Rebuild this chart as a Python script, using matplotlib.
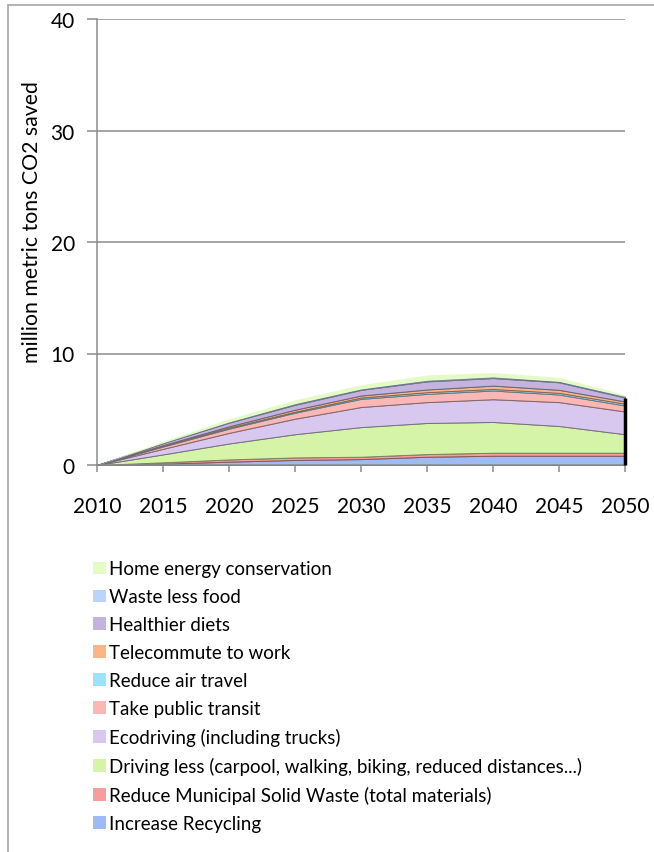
import numpy as np
import matplotlib
matplotlib.use('Agg')
import matplotlib.pyplot as plt
from matplotlib.patches import Rectangle, Patch
from matplotlib.colors import to_rgb

plt.rcParams['font.family'] = ['Lato', 'DejaVu Sans']

# ── Data: CO2 saved per measure (million metric tons), stacked bottom→top ──
years = [2010, 2015, 2020, 2025, 2030, 2035, 2040, 2045, 2050]

recycling   = [0, 0.12, 0.30, 0.45, 0.53, 0.74, 0.83, 0.83, 0.83]
msw         = [0, 0.12, 0.20, 0.23, 0.21, 0.24, 0.27, 0.27, 0.27]
driving     = [0, 0.71, 1.43, 2.08, 2.66, 2.79, 2.76, 2.40, 1.66]
ecodriving  = [0, 0.50, 0.95, 1.39, 1.80, 1.87, 2.04, 2.14, 2.04]
transit     = [0, 0.21, 0.38, 0.54, 0.73, 0.74, 0.78, 0.68, 0.54]
air_travel  = [0, 0.06, 0.09, 0.09, 0.12, 0.15, 0.14, 0.15, 0.16]
telecommute = [0, 0.06, 0.12, 0.18, 0.18, 0.24, 0.30, 0.27, 0.20]
diets       = [0, 0.18, 0.33, 0.44, 0.51, 0.73, 0.68, 0.68, 0.35]
food_waste  = [0, 0.03, 0.06, 0.10, 0.08, 0.10, 0.10, 0.08, 0.10]
home_energy = [0, 0.15, 0.29, 0.35, 0.38, 0.47, 0.40, 0.36, 0.15]

labels = [
    'Increase Recycling',
    'Reduce Municipal Solid Waste (total materials)',
    'Driving less (carpool, walking, biking, reduced distances...)',
    'Ecodriving (including trucks)',
    'Take public transit',
    'Reduce air travel',
    'Telecommute to work',
    'Healthier diets',
    'Waste less food',
    'Home energy conservation',
]
series = [recycling, msw, driving, ecodriving, transit, air_travel,
          telecommute, diets, food_waste, home_energy]
colors = ['#9EBBF3', '#F79D9D', '#D6F4A8', '#D8C8EF', '#FBB6B6',
          '#9DE1FA', '#FBB687', '#C4B2DF', '#BBD4FB', '#E5FBC6']

W, H = 654, 853
fig = plt.figure(figsize=(W / 100, H / 100), dpi=100)
fig.patch.set_facecolor('white')

# chart frame, cut off at the right and bottom edges
fig.add_artist(Rectangle((8 / W, -0.1), 2.0, 1.1 - 6 / H,
                         transform=fig.transFigure, fill=False,
                         ec='#A6A6A6', lw=1.2))

ax = fig.add_axes([97 / W, 1 - 466 / H, 528 / W, 446 / H])

edge = [tuple(c * 0.55 for c in to_rgb(col)) for col in colors]
polys = ax.stackplot(years, *series, colors=colors, labels=labels)
for p, e in zip(polys, edge):
    p.set_edgecolor(e)
    p.set_linewidth(0.7)
polys[-1].set_linewidth(0)

# dark edge on the last year
top_diets = np.sum(series[:8], axis=0)
ax.vlines(years[-1], 0, top_diets[-1], color='black', lw=2.5, zorder=3,
          clip_on=False)

ax.set_xlim(years[0], years[-1])
ax.set_ylim(0, 40)
ax.set_xticks(years)
ax.set_yticks([0, 10, 20, 30, 40])
ax.yaxis.grid(True, color='#8C8C8C', lw=1.1)
ax.set_axisbelow(True)

for s in ['top', 'right']:
    ax.spines[s].set_visible(False)
for s in ['left', 'bottom']:
    ax.spines[s].set_color('#8C8C8C')
    ax.spines[s].set_linewidth(1.1)

ax.tick_params(axis='y', direction='out', length=7, width=1.1,
               color='#8C8C8C', pad=9, labelsize=15)
ax.tick_params(axis='x', direction='out', length=5, width=1.1,
               color='#8C8C8C', pad=17, labelsize=15)

ax.set_ylabel('million metric tons CO2 saved', fontsize=15.3)
ax.yaxis.set_label_coords(-0.104, 0.547)

handles = [Patch(facecolor=c, edgecolor='none') for c in colors]
leg = fig.legend(handles[::-1], labels[::-1], loc='upper left',
                 bbox_to_anchor=(84 / W, 1 - 552 / H), frameon=False,
                 fontsize=13.5, handlelength=0.65, handleheight=0.65,
                 handletextpad=0.2, labelspacing=0.585, borderpad=0)

fig.savefig('out.png', dpi=100)
